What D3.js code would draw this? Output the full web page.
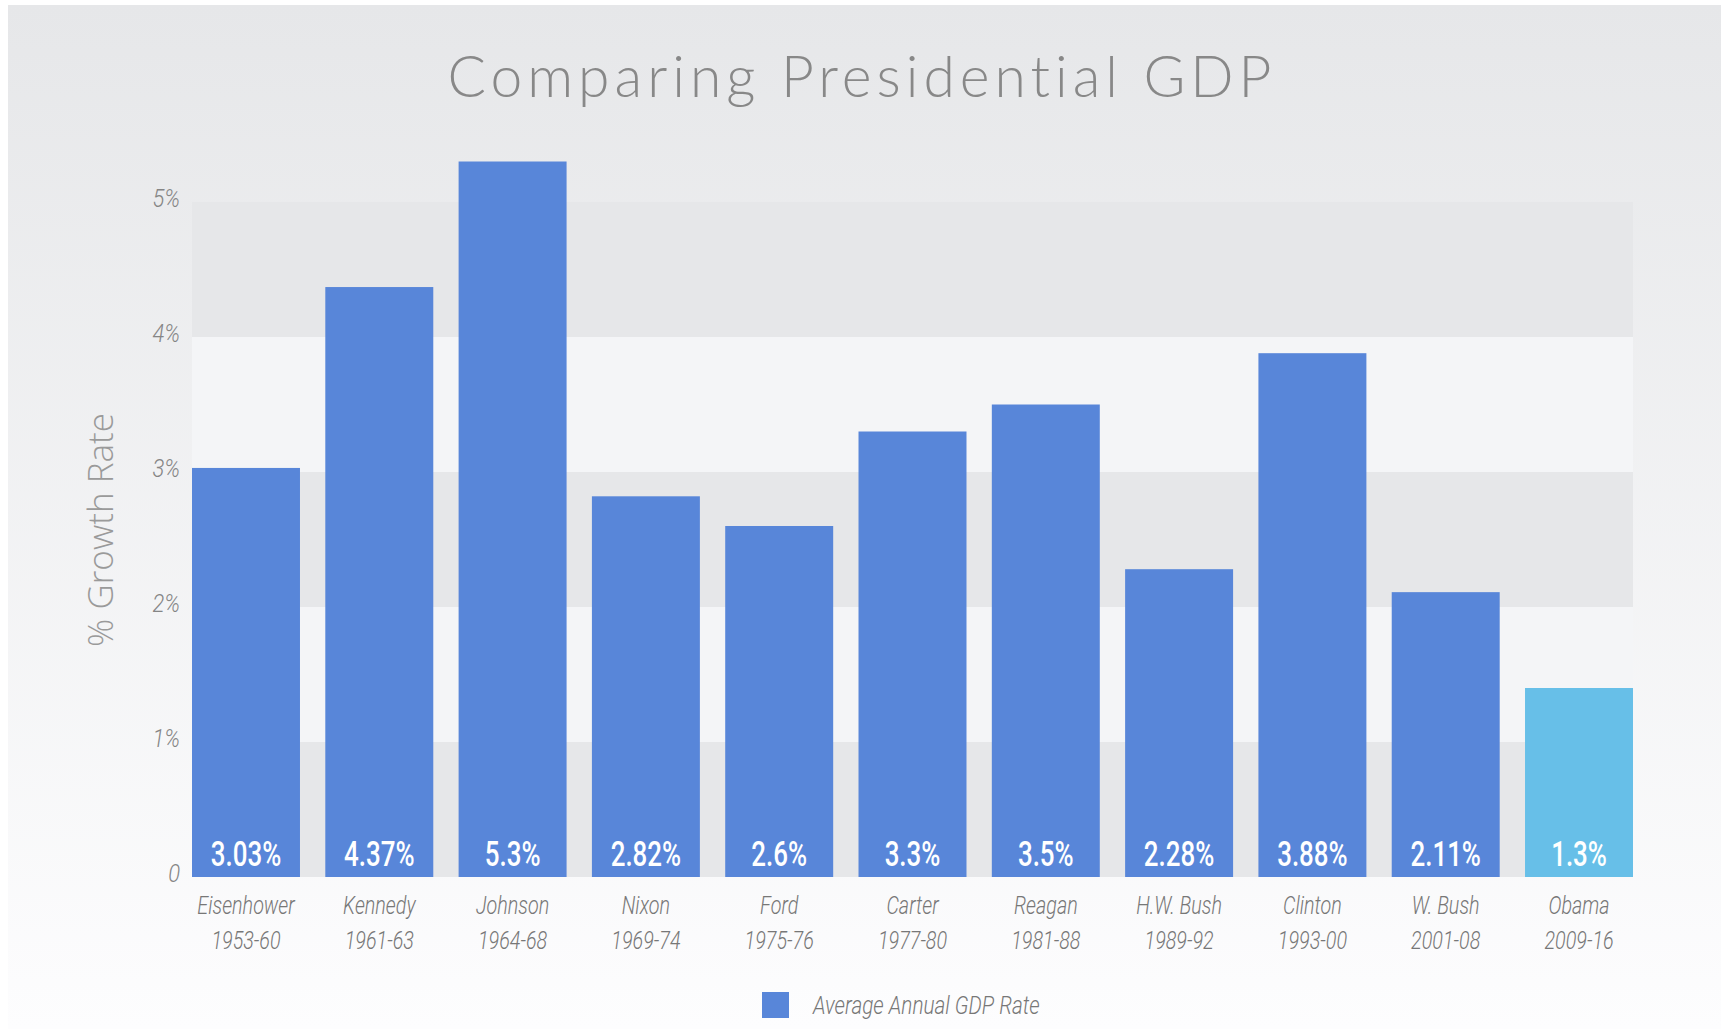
<!DOCTYPE html>
<html>
<head>
<meta charset="utf-8">
<script src="https://cdn.jsdelivr.net/npm/d3@7"></script>
<style>
  body { margin: 0; background: #fff; }
  .narrow { font-family: Roboto, "DejaVu Sans Condensed", sans-serif; font-weight: 300; }
</style>
</head>
<body>
<svg id="chart" width="1723" height="1029"></svg>
<script>
// data
var presidents = ["Eisenhower", "Kennedy", "Johnson", "Nixon", "Ford", "Carter", "Reagan", "H.W. Bush", "Clinton", "W. Bush", "Obama"];
var terms = ["1953-60", "1961-63", "1964-68", "1969-74", "1975-76", "1977-80", "1981-88", "1989-92", "1993-00", "2001-08", "2009-16"];
var gdpRate = [3.03, 4.37, 5.3, 2.82, 2.6, 3.3, 3.5, 2.28, 3.88, 2.11, 1.4];
var rateLabels = ["3.03%", "4.37%", "5.3%", "2.82%", "2.6%", "3.3%", "3.5%", "2.28%", "3.88%", "2.11%", "1.3%"];
var yTicks = [0, 1, 2, 3, 4, 5];

var svg = d3.select("#chart");

var defs = svg.append("defs");
var grad = defs.append("linearGradient")
  .attr("id", "bg").attr("x1", 0).attr("y1", 0).attr("x2", 0).attr("y2", 1);
grad.append("stop").attr("offset", "0%").attr("stop-color", "#e6e7e9");
grad.append("stop").attr("offset", "100%").attr("stop-color", "#fdfdfe");

svg.append("rect")
  .attr("x", 8).attr("y", 5)
  .attr("width", 1713).attr("height", 1024)
  .attr("fill", "url(#bg)");

var plotLeft = 192, plotRight = 1633, plotBottom = 877, plotTop = 202;

var x = d3.scaleBand()
  .domain(presidents)
  .range([plotLeft, plotRight])
  .paddingInner(0.19)
  .paddingOuter(0);

var y = d3.scaleLinear()
  .domain([0, 5])
  .range([plotBottom, plotTop]);

// alternating bands
var bands = d3.range(0, 5);
svg.append("g").selectAll("rect")
  .data(bands)
  .join("rect")
  .attr("x", plotLeft)
  .attr("width", plotRight - plotLeft)
  .attr("y", function(d) { return y(d + 1); })
  .attr("height", function(d) { return y(d) - y(d + 1); })
  .attr("fill", function(d) { return d % 2 == 0 ? "#e6e7e9" : "#f4f5f7"; });

// title
svg.append("text")
  .attr("x", 862).attr("y", 97)
  .attr("text-anchor", "middle")
  .style("font-family", "Lato, 'Open Sans', sans-serif")
  .style("font-weight", 300)
  .style("font-size", "57px")
  .style("letter-spacing", "5px")
  .attr("fill", "#888")
  .text("Comparing Presidential GDP");

// bars
svg.append("g").selectAll("rect")
  .data(presidents)
  .join("rect")
  .attr("x", function(d) { return x(d); })
  .attr("width", x.bandwidth())
  .attr("y", function(d, i) { return y(gdpRate[i]); })
  .attr("height", function(d, i) { return plotBottom - y(gdpRate[i]); })
  .attr("fill", function(d) { return d == "Obama" ? "#67bfe8" : "#5886d9"; });

// value labels
svg.append("g").selectAll("text")
  .data(presidents)
  .join("text")
  .attr("class", "narrow")
  .attr("transform", function(d) {
    return "translate(" + (x(d) + x.bandwidth() / 2) + ",866) scale(0.72,1)";
  })
  .attr("text-anchor", "middle")
  .style("font-size", "36px")
  .style("font-weight", 500)
  .attr("fill", "#ffffff")
  .text(function(d, i) { return rateLabels[i]; });

// y axis
var yAxis = svg.append("g")
  .attr("transform", "translate(180,-4)")
  .call(d3.axisLeft(y)
    .tickValues(yTicks)
    .tickSize(0)
    .tickPadding(0)
    .tickFormat(function(d) { return d == 0 ? "0" : d + "%"; }));
yAxis.select(".domain").remove();
yAxis.selectAll("text")
  .attr("class", "narrow")
  .attr("x", 0)
  .attr("dy", "0.35em")
  .attr("transform", "scale(0.88,1)")
  .style("font-size", "25px")
  .style("font-style", "italic")
  .attr("fill", "#858585");

// y axis title
svg.append("text")
  .attr("transform", "translate(113,530) rotate(-90)")
  .attr("text-anchor", "middle")
  .style("font-family", "'Open Sans', sans-serif")
  .style("font-weight", 300)
  .style("font-size", "35px")
  .attr("fill", "#9a9a9a")
  .text("% Growth Rate");

// x axis
var xAxis = svg.append("g")
  .attr("transform", "translate(0," + plotBottom + ")")
  .call(d3.axisBottom(x).tickSize(0).tickPadding(0));
xAxis.select(".domain").remove();
xAxis.selectAll("text").remove();
var ticks = xAxis.selectAll(".tick");
ticks.append("text")
  .attr("class", "narrow")
  .attr("transform", "translate(0,37) scale(0.79,1)")
  .attr("text-anchor", "middle")
  .style("font-size", "25px")
  .style("font-style", "italic")
  .attr("fill", "#777")
  .text(function(d) { return d; });
ticks.append("text")
  .attr("class", "narrow")
  .attr("transform", "translate(0,72) scale(0.79,1)")
  .attr("text-anchor", "middle")
  .style("font-size", "25px")
  .style("font-style", "italic")
  .attr("fill", "#777")
  .text(function(d, i) { return terms[i]; });

// legend
var legend = svg.append("g").attr("transform", "translate(762,992)");
legend.append("rect")
  .attr("width", 27).attr("height", 26)
  .attr("fill", "#5886d9");
legend.append("text")
  .attr("class", "narrow")
  .attr("transform", "translate(51,22) scale(0.83,1)")
  .style("font-size", "25px")
  .style("font-style", "italic")
  .attr("fill", "#777")
  .text("Average Annual GDP Rate");
</script>
</body>
</html>
